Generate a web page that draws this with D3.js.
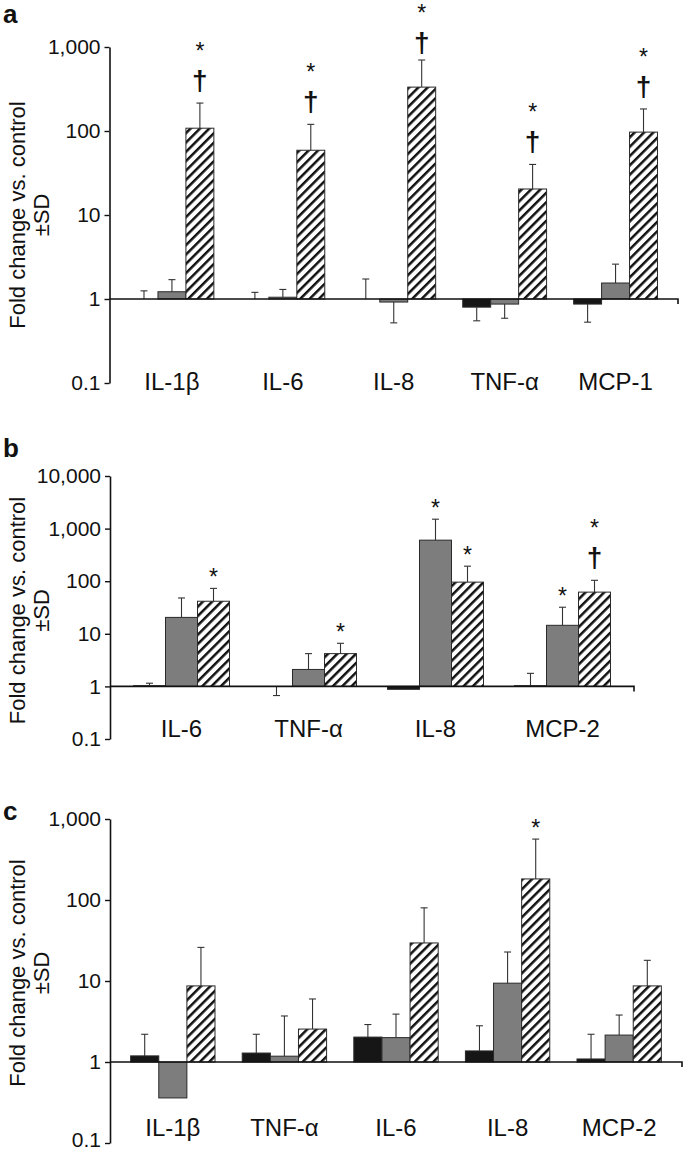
<!DOCTYPE html>
<html><head><meta charset="utf-8">
<script src="https://cdn.jsdelivr.net/npm/d3@7"></script>
<style>
body{margin:0;background:#fff}
svg{display:block}
text{font-family:"Liberation Sans",Arial,Helvetica,sans-serif;fill:#111}
</style>
</head><body>
<svg id="chart" width="685" height="1152"></svg>
<script>
// ---------- DATA ----------
// Panel a
const catsA = ["IL-1β", "IL-6", "IL-8", "TNF-α", "MCP-1"];
const blackA = [1.0, 1.0, 1.0, 0.80, 0.87];
const blackErrA = [1.25, 1.2, 1.73, 0.55, 0.53];
const grayA = [1.22, 1.05, 0.92, 0.87, 1.55];
const grayErrA = [1.7, 1.3, 0.52, 0.59, 2.6];
const hatchA = [108, 59, 333, 20.4, 97];
const hatchErrA = [215, 120, 700, 40, 183];
const marksA = [["", "", "*†"], ["", "", "*†"], ["", "", "*†"], ["", "", "*†"], ["", "", "*†"]];
const ticksA = [0.1, 1, 10, 100, 1000];

// Panel b
const catsB = ["IL-6", "TNF-α", "IL-8", "MCP-2"];
const blackB = [1.03, 0.99, 0.88, 1.03];
const blackErrB = [1.15, 0.67, null, 1.77];
const grayB = [20.5, 2.1, 603, 14.5];
const grayErrB = [48, 4.2, 1510, 32];
const hatchB = [41.6, 4.2, 96, 62];
const hatchErrB = [73, 6.6, 193, 104];
const marksB = [["", "", "*"], ["", "", "*"], ["", "*", "*"], ["", "*", "*†"]];
const ticksB = [0.1, 1, 10, 100, 1000, 10000];

// Panel c
const catsC = ["IL-1β", "TNF-α", "IL-6", "IL-8", "MCP-2"];
const blackC = [1.19, 1.29, 2.03, 1.37, 1.09];
const blackErrC = [2.2, 2.2, 2.9, 2.8, 2.2];
const grayC = [0.36, 1.18, 2.0, 9.4, 2.15];
const grayErrC = [null, 3.7, 3.9, 22.8, 3.8];
const hatchC = [8.7, 2.55, 29.5, 182, 8.7];
const hatchErrC = [26, 6.0, 80, 565, 18];
const marksC = [["", "", ""], ["", "", ""], ["", "", ""], ["", "", "*"], ["", "", ""]];
const ticksC = [0.1, 1, 10, 100, 1000];

const yTitle = "Fold change vs. control";
const ySub = "±SD";

// ---------- DRAWING ----------
const svg = d3.select("#chart");
const defs = svg.append("defs");
const pw = 6.6;
const pat = defs.append("pattern").attr("id", "hatch")
  .attr("patternUnits", "userSpaceOnUse")
  .attr("width", pw).attr("height", pw)
  .attr("patternTransform", "rotate(45)");
pat.append("rect").attr("width", pw).attr("height", pw).attr("fill", "#fff");
pat.append("rect").attr("width", 2.5).attr("height", pw).attr("fill", "#111");

const fills = ["#161616", "#7d7d7d", "url(#hatch)"];

function drawPanel(cfg) {
  const g = svg.append("g");
  const y = d3.scaleLog().domain([0.1, cfg.ticks[cfg.ticks.length - 1]]).range([cfg.bottom, cfg.top]);
  const x0 = d3.scaleBand().domain(cfg.cats).range([cfg.left, cfg.right])
    .paddingInner(0.244).paddingOuter(0.185);
  const x1 = d3.scaleBand().domain([0, 1, 2]).range([0, x0.bandwidth()]);
  const series = [
    {vals: cfg.black, errs: cfg.blackErr},
    {vals: cfg.gray, errs: cfg.grayErr},
    {vals: cfg.hatch, errs: cfg.hatchErr}
  ];
  const y1 = y(1);
  series.forEach((s, si) => {
    cfg.cats.forEach((c, ci) => {
      const v = s.vals[ci];
      const bx = x0(c) + x1(si);
      const bw = x1.bandwidth();
      const yv = y(v);
      const h = Math.abs(yv - y1);
      if (h > 0.3) {
        g.append("rect")
          .attr("x", bx).attr("y", Math.min(yv, y1))
          .attr("width", bw).attr("height", h)
          .attr("fill", fills[si])
          .attr("stroke", "#2a2a2a").attr("stroke-width", 1);
      }
      const e = s.errs[ci];
      const cx = bx + bw / 2;
      let topY = yv;
      if (e != null) {
        const ye = y(e);
        g.append("line").attr("x1", cx).attr("x2", cx).attr("y1", yv).attr("y2", ye)
          .attr("stroke", "#333").attr("stroke-width", 1.1);
        g.append("line").attr("x1", cx - 3.5).attr("x2", cx + 3.5).attr("y1", ye).attr("y2", ye)
          .attr("stroke", "#333").attr("stroke-width", 1.1);
        topY = Math.min(ye, yv);
      }
      const m = cfg.marks[ci][si];
      if (m) {
        if (m.includes("†")) {
          const ay = Math.max(topY - 44, 21);
          const dy = Math.max(topY - 13, ay + 30.5);
          g.append("text").attr("text-anchor", "middle")
            .attr("x", cx).attr("y", ay)
            .attr("font-size", 23).text("*");
          g.append("text").attr("text-anchor", "middle")
            .attr("x", cx).attr("y", dy)
            .attr("font-size", 28).attr("font-weight", "bold").text("†");
        } else {
          g.append("text").attr("text-anchor", "middle")
            .attr("x", cx).attr("y", topY - 3)
            .attr("font-size", 23).text("*");
        }
      }
    });
  });
  // baseline at 1
  g.append("path")
    .attr("d", `M${cfg.left},${y1}H${cfg.right}V${y1 + 5}`)
    .attr("fill", "none").attr("stroke", "#111").attr("stroke-width", 1.6);
  // y axis
  const ax = g.append("g").attr("transform", `translate(${cfg.left},0)`)
    .call(d3.axisLeft(y).tickValues(cfg.ticks).tickFormat(d3.format(","))
      .tickSize(5).tickSizeOuter(0).tickPadding(4));
  ax.select(".domain").attr("stroke", "#111").attr("stroke-width", 1.6);
  ax.selectAll(".tick line").attr("stroke", "#111").attr("stroke-width", 1.4);
  ax.selectAll(".tick text").attr("font-size", 21).attr("fill", "#111")
    .attr("font-family", '"Liberation Sans",Arial,sans-serif')
    .attr("dy", (d, i) => (i === 0 ? cfg.lowTickDy : "0.32em"));
  // category labels
  g.selectAll(".cat").data(cfg.cats).enter().append("text")
    .attr("x", d => x0(d) + x0.bandwidth() / 2)
    .attr("y", cfg.labelY)
    .attr("text-anchor", "middle").attr("font-size", 24)
    .text(d => d);
  // y title
  const cy = (cfg.top + cfg.bottom) / 2 + cfg.titleShift;
  g.append("text").attr("transform", `translate(25,${cy}) rotate(-90)`)
    .attr("text-anchor", "middle").attr("font-size", 22).text(yTitle);
  g.append("text").attr("transform", `translate(49,${cy}) rotate(-90)`)
    .attr("text-anchor", "middle").attr("font-size", 22).text(ySub);
  // panel letter
  g.append("text").attr("x", 3).attr("y", cfg.letterY)
    .attr("font-size", 26).attr("font-weight", "bold").text(cfg.letter);
}

drawPanel({letter: "a", letterY: 23, cats: catsA, black: blackA, blackErr: blackErrA,
  gray: grayA, grayErr: grayErrA, hatch: hatchA, hatchErr: hatchErrA, marks: marksA,
  ticks: ticksA, top: 47, bottom: 383, left: 109.5, right: 678, labelY: 390, titleShift: 0,
  lowTickDy: "0.32em"});
drawPanel({letter: "b", letterY: 457, cats: catsB, black: blackB, blackErr: blackErrB,
  gray: grayB, grayErr: grayErrB, hatch: hatchB, hatchErr: hatchErrB, marks: marksB,
  ticks: ticksB, top: 476, bottom: 739, left: 110, right: 634, labelY: 737, titleShift: 3,
  lowTickDy: "0.32em"});
drawPanel({letter: "c", letterY: 820, cats: catsC, black: blackC, blackErr: blackErrC,
  gray: grayC, grayErr: grayErrC, hatch: hatchC, hatchErr: hatchErrC, marks: marksC,
  ticks: ticksC, top: 819, bottom: 1143, left: 110, right: 682, labelY: 1136, titleShift: -8,
  lowTickDy: "0.18em"});
</script>
</body></html>
